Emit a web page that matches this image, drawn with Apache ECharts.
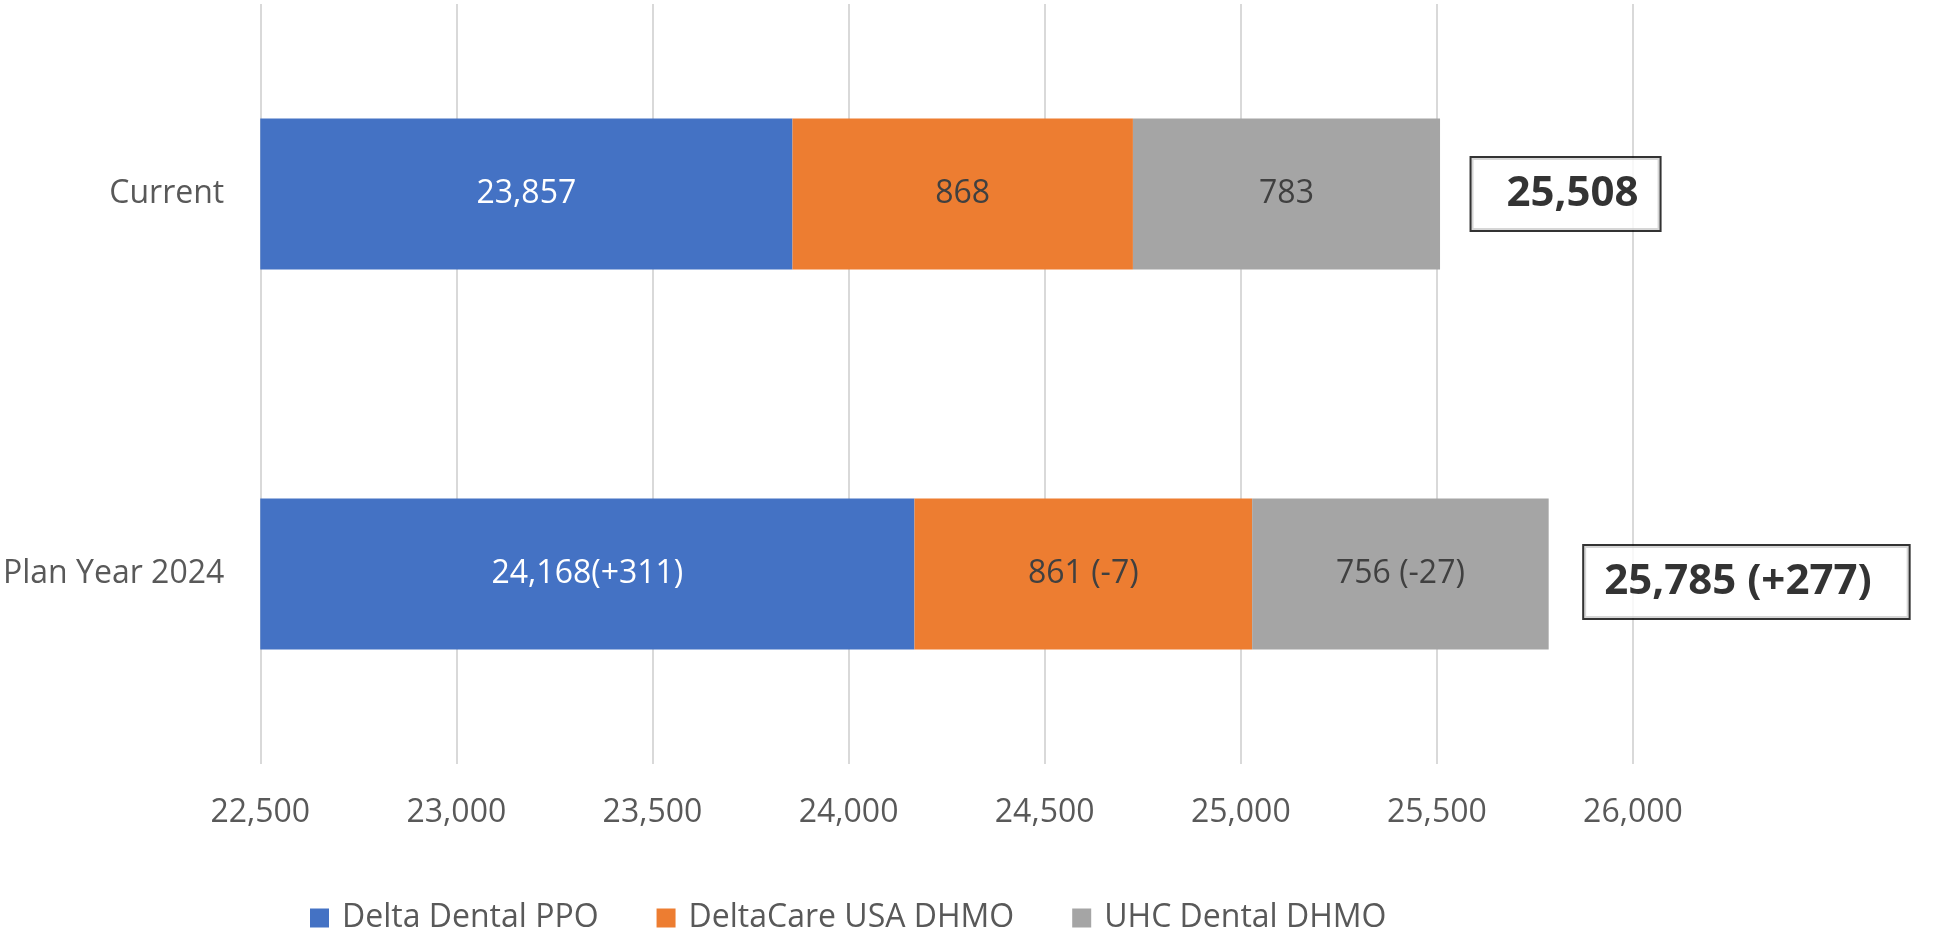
<!DOCTYPE html>
<html>
<head>
<meta charset="utf-8">
<script src="https://cdn.jsdelivr.net/npm/echarts@6/dist/echarts.min.js"></script>
<style>
  html, body { margin: 0; padding: 0; background: #fff; }
  #chart { width: 1942px; height: 930px; }
</style>
</head>
<body>
<div id="chart"></div>
<script>
const categories = ['Current', 'Plan Year 2024']
const seriesNames = ['Delta Dental PPO', 'DeltaCare USA DHMO', 'UHC Dental DHMO']
const ppo = [23857, 24168]
const dhmo = [868, 861]
const uhc = [783, 756]
const ppoLabels = ['23,857', '24,168(+311)']
const dhmoLabels = ['868', '861 (-7)']
const uhcLabels = ['783', '756 (-27)']
const totals = [25508, 25785]
const totalLabels = ['25,508', '25,785 (+277)']

const font = '"Open Sans", "Noto Sans", sans-serif'
const colors = ['#4472C4', '#ED7D31', '#A5A5A5']

const chart = echarts.init(document.getElementById('chart'))

const barSeries = (name, data, labels, color, textColor) => ({
  name,
  type: 'bar',
  stack: 'total',
  barWidth: 151,
  data,
  itemStyle: { color },
  label: {
    show: true,
    position: 'inside',
    formatter: (p) => labels[p.dataIndex],
    color: textColor,
    fontFamily: font,
    fontSize: 32
  }
})

// label boxes for totals, hand-placed like the text boxes in the original
const boxStyles = [
  { distance: 31, padding: [15, 21, 15, 35], offset: [0, 0] },
  { distance: 35, padding: [15, 37, 15, 20], offset: [0, 8] }
]

chart.setOption({
  animation: false,
  color: colors,
  grid: { left: 259, right: 309, top: 4, bottom: 166 },
  legend: {
    data: seriesNames,
    left: 305,
    top: 897,
    itemWidth: 19,
    itemHeight: 19,
    itemGap: 58,
    icon: 'rect',
    textStyle: { fontFamily: font, fontSize: 32, color: '#595959', padding: [0, 0, 0, 8] }
  },
  xAxis: {
    type: 'value',
    min: 22500,
    max: 26000,
    interval: 500,
    axisLine: { show: false },
    axisTick: { show: false },
    splitLine: { lineStyle: { color: '#D9D9D9', width: 2 } },
    axisLabel: {
      margin: 33,
      fontFamily: font,
      fontSize: 32,
      color: '#595959',
      formatter: (v) => v.toLocaleString('en-US')
    }
  },
  yAxis: {
    type: 'category',
    inverse: true,
    data: categories,
    axisLine: { show: false },
    axisTick: { show: false },
    axisLabel: { margin: 36, fontFamily: font, fontSize: 32, color: '#595959' }
  },
  series: [
    barSeries(seriesNames[0], ppo, ppoLabels, colors[0], '#ffffff'),
    barSeries(seriesNames[1], dhmo, dhmoLabels, colors[1], '#404040'),
    barSeries(seriesNames[2], uhc, uhcLabels, colors[2], '#404040'),
    {
      name: 'Total',
      type: 'scatter',
      symbolSize: 1,
      itemStyle: { color: 'rgba(0,0,0,0)' },
      silent: true,
      data: totals.map((t, i) => ({
        value: [t, i],
        label: boxStyles[i]
      })),
      label: {
        show: true,
        position: 'right',
        formatter: (p) => totalLabels[p.dataIndex],
        fontFamily: font,
        fontSize: 42,
        fontWeight: 'bold',
        color: '#000000',
        backgroundColor: '#fff',
        borderColor: '#000',
        borderWidth: 2
      }
    }
  ]
})
</script>
</body>
</html>
